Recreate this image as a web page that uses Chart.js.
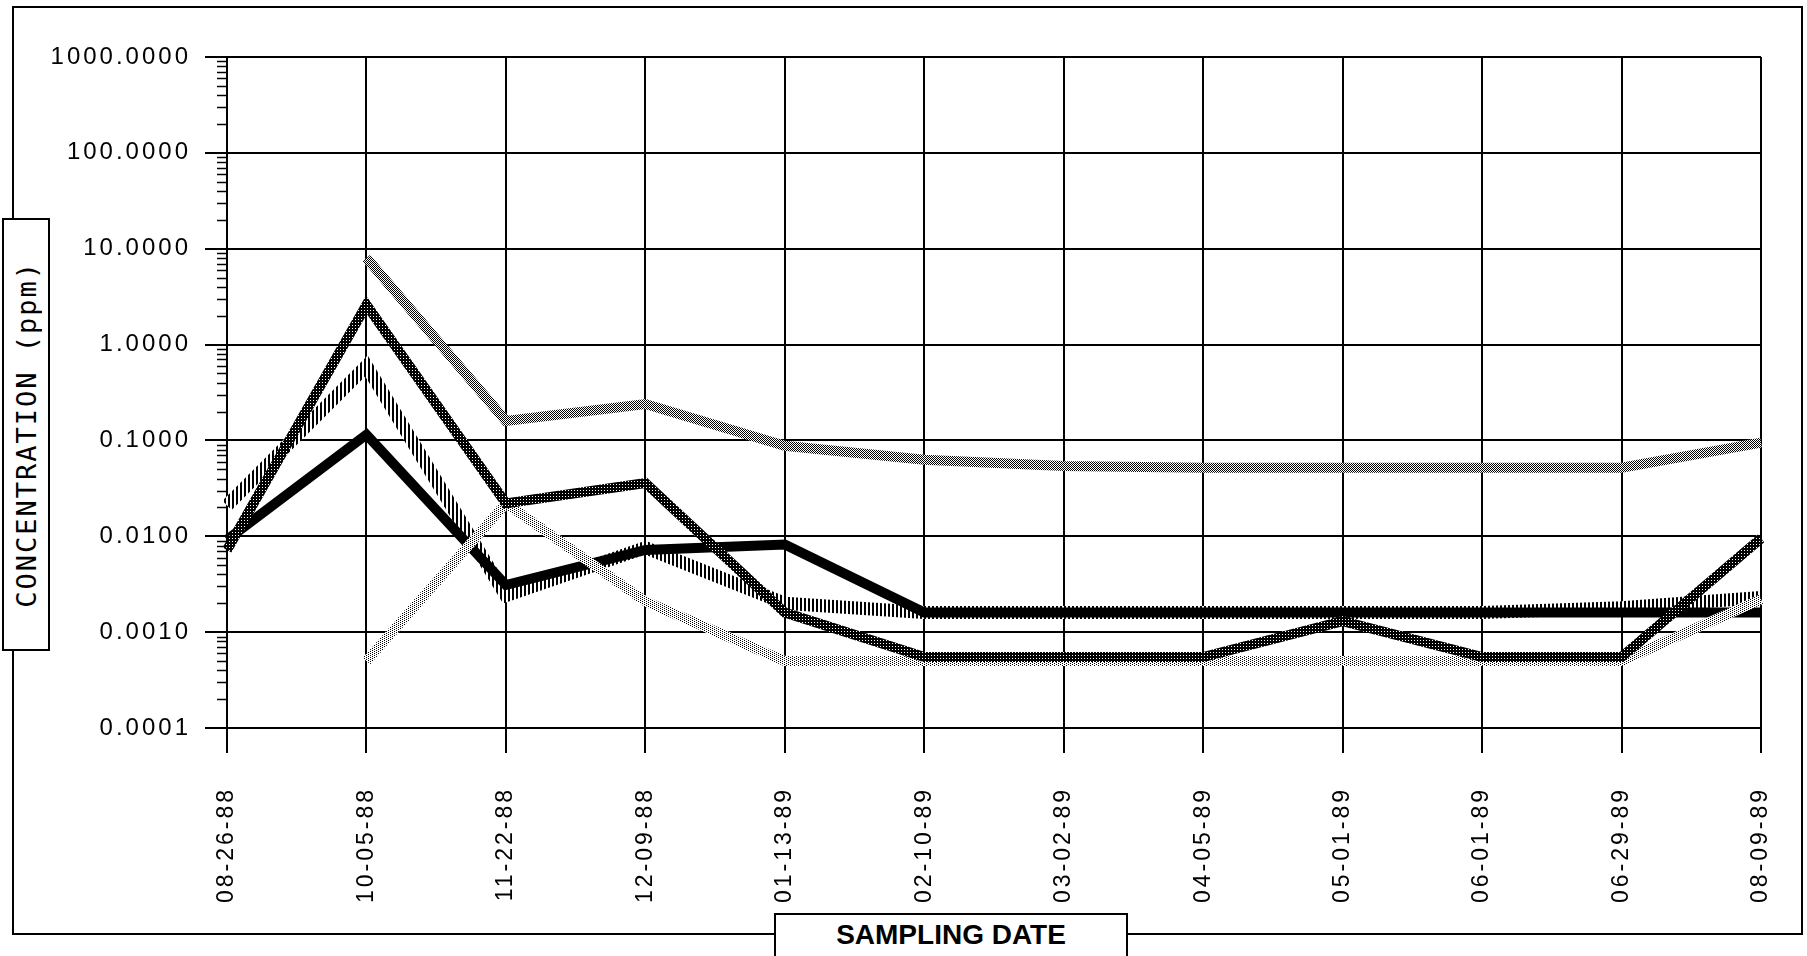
<!DOCTYPE html>
<html>
<head>
<meta charset="utf-8">
<title>Concentration by sampling date</title>
<script src="https://cdn.jsdelivr.net/npm/chart.js@4/dist/chart.umd.min.js"></script>
<style>
  html, body { margin: 0; padding: 0; background: #fff; }
  body { position: relative; width: 1807px; height: 956px; overflow: hidden; }
  #frame { position: absolute; left: 12px; top: 6px; width: 1791px; height: 929px;
           border: 2px solid #000; box-sizing: border-box; }
  #chart { position: absolute; left: 0; top: 0; }
  #ytitle { position: absolute; left: 2px; top: 218px; width: 48px; height: 433px;
            border: 2px solid #000; box-sizing: border-box; background: #fff;
            display: flex; align-items: center; justify-content: center; }
  #ytitle span { writing-mode: vertical-rl; transform: rotate(180deg);
                 font-family: "DejaVu Sans Mono", monospace; font-size: 27px;
                 letter-spacing: 2px; color: #000; white-space: nowrap; }
  #xtitle { position: absolute; left: 774px; top: 913px; width: 354px; height: 60px;
            border: 2px solid #000; box-sizing: border-box; background: #fff;
            text-align: center; line-height: 40px;
            font-family: "Liberation Sans", Arial, sans-serif; font-weight: bold;
            font-size: 28px; color: #000; white-space: nowrap; }
</style>
</head>
<body>
<div id="frame"></div>
<canvas id="chart" width="1807" height="956"></canvas>
<div id="ytitle"><span>CONCENTRATION (ppm)</span></div>
<div id="xtitle">SAMPLING DATE</div>

<script>
// Sampling dates (category axis)
const dates = ['08-26-88', '10-05-88', '11-22-88', '12-09-88', '01-13-89', '02-10-89',
               '03-02-89', '04-05-89', '05-01-89', '06-01-89', '06-29-89', '08-09-89'];

// Concentrations in ppm, one array per trace
const solidSeries   = [0.0092, 0.115, 0.0031, 0.0072, 0.0082, 0.0016, 0.0016, 0.0016, 0.0016, 0.0016, 0.0016, 0.0016];
const hatchedSeries = [0.021, 0.6, 0.0024, 0.0076, 0.002, 0.0016, 0.0016, 0.0016, 0.0016, 0.0016, 0.0018, 0.0023];
const darkSeries    = [0.0072, 2.6, 0.022, 0.036, 0.0016, 0.00055, 0.00055, 0.00055, 0.0013, 0.00055, 0.00055, 0.0095];
const greySeries    = [null, 8.0, 0.16, 0.24, 0.088, 0.063, 0.054, 0.052, 0.052, 0.052, 0.052, 0.095];
const lightSeries   = [null, 0.0005, 0.022, 0.0021, 0.0005, 0.0005, 0.0005, 0.0005, 0.0005, 0.0005, 0.0005, 0.0022];

// Logarithmic axis: decade ticks and their labels
const yTickValues = [0.0001, 0.001, 0.01, 0.1, 1, 10, 100, 1000];
const yTickLabels = ['0.0001', '0.0010', '0.0100', '0.1000', '1.0000', '10.0000', '100.0000', '1000.0000'];
const minorSteps  = [2, 3, 4, 5, 6, 7, 8, 9];

const canvas = document.getElementById('chart');
const ctx = canvas.getContext('2d');

// Small bitmap tiles used as line textures ('#' = ink)
function makePattern(rows) {
  const t = document.createElement('canvas');
  t.width = rows[0].length; t.height = rows.length;
  const tc = t.getContext('2d');
  tc.fillStyle = '#fff';
  tc.fillRect(0, 0, t.width, t.height);
  tc.fillStyle = '#000';
  rows.forEach((r, y) => { for (let x = 0; x < r.length; x++) if (r[x] === '#') tc.fillRect(x, y, 1, 1); });
  return ctx.createPattern(t, 'repeat');
}
const hatchPattern = makePattern(['##..']);
const darkPattern  = makePattern(['###', '#.#', '###']);
const greyPattern  = makePattern(['#.', '.#']);
const lightPattern = makePattern(['#...', '..#.']);

// Canvas letter spacing for the axis numbers
const labelSpacing = {
  id: 'labelSpacing',
  beforeUpdate(chart) { chart.ctx.letterSpacing = '3px'; },
  beforeDraw(chart) { chart.ctx.letterSpacing = '3px'; }
};

// Short minor ticks on the log axis between decades
const minorTicks = {
  id: 'minorTicks',
  afterDraw(chart) {
    const ys = chart.scales.y;
    const c = chart.ctx;
    const x0 = chart.chartArea.left;
    c.save();
    c.strokeStyle = '#000';
    c.lineWidth = 1.5;
    for (let i = 0; i < yTickValues.length - 1; i++) {
      minorSteps.forEach(k => {
        const py = Math.round(ys.getPixelForValue(k * yTickValues[i])) + 0.5;
        c.beginPath();
        c.moveTo(x0 - 10, py);
        c.lineTo(x0, py);
        c.stroke();
      });
    }
    c.restore();
  }
};

const lineBase = { pointRadius: 0, pointHoverRadius: 0, tension: 0, fill: false,
                   borderJoinStyle: 'miter', borderCapStyle: 'butt', spanGaps: false };

new Chart(ctx, {
  type: 'line',
  data: {
    labels: dates,
    datasets: [
      Object.assign({ label: 'Trace 1', data: greySeries,    borderColor: greyPattern,  borderWidth: 10, order: 0 }, lineBase),
      Object.assign({ label: 'Trace 2', data: darkSeries,    borderColor: darkPattern,  borderWidth: 10, order: 1 }, lineBase),
      Object.assign({ label: 'Trace 3', data: lightSeries,   borderColor: lightPattern, borderWidth: 10, order: 2 }, lineBase),
      Object.assign({ label: 'Trace 4', data: solidSeries,   borderColor: '#000',       borderWidth: 10, order: 3 }, lineBase),
      Object.assign({ label: 'Trace 5', data: hatchedSeries, borderColor: hatchPattern, borderWidth: 13, order: 4 }, lineBase)
    ]
  },
  options: {
    responsive: false,
    animation: false,
    devicePixelRatio: 1,
    layout: { padding: { top: 57, right: 46, left: 0, bottom: 0 } },
    plugins: { legend: { display: false }, tooltip: { enabled: false }, title: { display: false } },
    events: [],
    scales: {
      x: {
        type: 'category',
        offset: false,
        grid: { display: true, color: '#000', lineWidth: 2, drawTicks: true, tickLength: 25,
                tickColor: '#000', tickWidth: 2, offset: false },
        border: { display: true, color: '#000', width: 2 },
        ticks: { autoSkip: false, minRotation: 90, maxRotation: 90, padding: 34, color: '#000',
                 font: { family: 'Liberation Sans', size: 23 } },
        afterFit(s) { s.height = 228; s.paddingLeft = 0; s.paddingRight = 0; }
      },
      y: {
        type: 'logarithmic',
        min: 0.0001,
        max: 1000,
        grid: { display: true, color: '#000', lineWidth: 2, drawTicks: true, tickLength: 22,
                tickColor: '#000', tickWidth: 2 },
        border: { display: true, color: '#000', width: 2 },
        ticks: {
          autoSkip: false, padding: 14, color: '#000',
          font: { family: 'Liberation Sans', size: 24 },
          callback(v) {
            const i = yTickValues.findIndex(t => Math.abs(t - v) < t * 1e-6);
            return i >= 0 ? yTickLabels[i] : '';
          }
        },
        afterBuildTicks(s) { s.ticks = yTickValues.map(v => ({ value: v, major: true })); },
        afterFit(s) { s.width = 227; s.paddingTop = 0; s.paddingBottom = 0; }
      }
    }
  },
  plugins: [labelSpacing, minorTicks]
});
</script>
</body>
</html>
